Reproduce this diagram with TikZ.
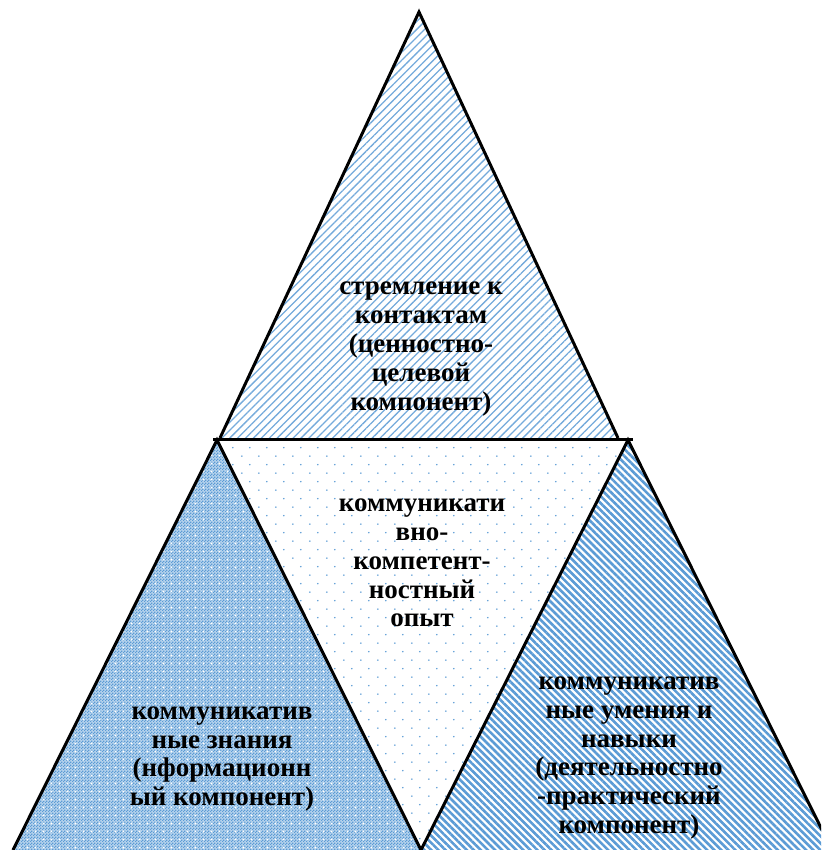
\documentclass[tikz,border=0pt]{standalone}
\usepackage{fontspec}
\setmainfont{Liberation Serif}
\usetikzlibrary{patterns,patterns.meta}
\definecolor{pblue}{HTML}{5B9BD5}
\pgfdeclarepatternformonly{finechecker}{\pgfqpoint{0pt}{0pt}}{\pgfqpoint{3pt}{3pt}}{\pgfqpoint{3pt}{3pt}}{%
  \pgfpathrectangle{\pgfqpoint{0pt}{0pt}}{\pgfqpoint{1.5pt}{1.5pt}}%
  \pgfpathrectangle{\pgfqpoint{1.5pt}{1.5pt}}{\pgfqpoint{1.5pt}{1.5pt}}%
  \pgfusepath{fill}}
\pgfdeclarepatternformonly{whitegrid}{\pgfqpoint{0pt}{0pt}}{\pgfqpoint{8pt}{8pt}}{\pgfqpoint{8pt}{8pt}}{%
  \pgfpathrectangle{\pgfqpoint{3pt}{3pt}}{\pgfqpoint{2pt}{2pt}}%
  \pgfusepath{fill}}
\pgfdeclarepatternformonly{sparsedots}{\pgfqpoint{0pt}{0pt}}{\pgfqpoint{17pt}{17.4pt}}{\pgfqpoint{17pt}{17.4pt}}{%
  \pgfpathcircle{\pgfqpoint{4pt}{4pt}}{0.9pt}%
  \pgfpathcircle{\pgfqpoint{12.5pt}{12.7pt}}{0.9pt}%
  \pgfusepath{fill}}
\tikzset{
  edge/.style={line width=3pt, black, line join=miter},
  lbl/.style={font=\fontsize{27}{28.8}\selectfont\bfseries, align=center, inner sep=0pt},
}
\begin{document}
\begin{tikzpicture}[x=1pt,y=-1pt]
\useasboundingbox (0,0) rectangle (821,850);
\clip (0,0) rectangle (821,850);
% coordinates
\coordinate (T) at (419,12);
\coordinate (TL) at (220,438);
\coordinate (TR) at (618,438);
\coordinate (LA) at (217,440);
\coordinate (LL) at (13,850);
\coordinate (B) at (421,850);
\coordinate (RA) at (628,440);
\coordinate (RR) at (832,850);
\coordinate (HL) at (213,439);
\coordinate (HR) at (633,439);
% fills
\fill[pattern={Lines[angle=45,distance=5.6pt,line width=1.3pt]}, pattern color=pblue!85!white] (T) -- (TR) -- (TL) -- cycle;
\fill[pattern=sparsedots, pattern color=pblue] (LA) -- (RA) -- (B) -- cycle;
\fill[pblue!45!white] (LA) -- (B) -- (LL) -- cycle;
\fill[pattern=finechecker, pattern color=pblue] (LA) -- (B) -- (LL) -- cycle;
\fill[pattern=whitegrid, pattern color=white] (LA) -- (B) -- (LL) -- cycle;
\fill[pattern={Lines[angle=-45,distance=5pt,line width=2.6pt]}, pattern color=pblue] (RA) -- (RR) -- (B) -- cycle;
% edges
\draw[edge] (TL) -- (T) -- (TR);
\draw[edge] (HL) -- (HR);
\draw[edge] (LL) -- (LA) -- (B);
\draw[edge] (B) -- (RA) -- (RR);
% labels
\node[lbl] (ttop) at (421,349) {стремление к\\контактам\\(ценностно-\\целевой\\компонент)};
\node[lbl] (tmid) at (422,563) {коммуникати\\вно-\\компетент-\\ностный\\опыт};
\node[lbl] (tleft) at (222,759) {коммуникатив\\ные знания\\(нформационн\\ый компонент)};
\node[lbl] (tright) at (629,758) {коммуникатив\\ные умения и\\навыки\\(деятельностно\\-практический\\компонент)};
\end{tikzpicture}
\end{document}
